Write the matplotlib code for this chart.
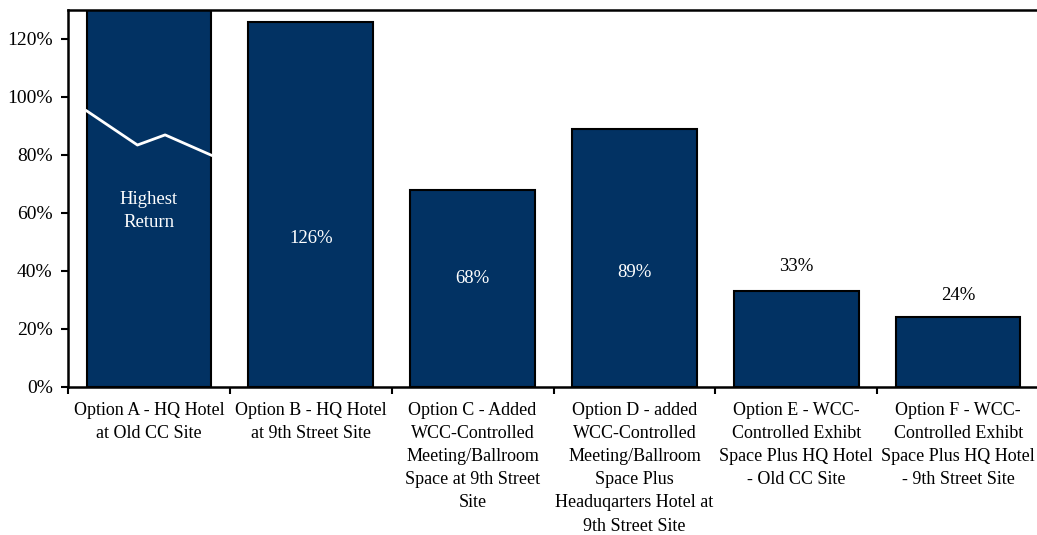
import matplotlib
matplotlib.use("Agg")
import matplotlib.pyplot as plt
import numpy as np

categories = [
    "Option A - HQ Hotel\nat Old CC Site",
    "Option B - HQ Hotel\nat 9th Street Site",
    "Option C - Added\nWCC-Controlled\nMeeting/Ballroom\nSpace at 9th Street\nSite",
    "Option D - added\nWCC-Controlled\nMeeting/Ballroom\nSpace Plus\nHeaduqarters Hotel at\n9th Street Site",
    "Option E - WCC-\nControlled Exhibt\nSpace Plus HQ Hotel\n- Old CC Site",
    "Option F - WCC-\nControlled Exhibt\nSpace Plus HQ Hotel\n- 9th Street Site",
]
values = [140, 126, 68, 89, 33, 24]   # first bar runs off the top of the chart
value_labels = ["Highest\nReturn", "126%", "68%", "89%", "33%", "24%"]
label_y = [60.5, 51, 37.5, 39.5, 41.5, 31.6]
label_inside = [True, True, True, True, False, False]

# white break line drawn across the first bar
break_x = [-0.385, -0.071, 0.10, 0.385]
break_y = [95.2, 83.4, 86.9, 79.9]

yticks = [0, 20, 40, 60, 80, 100, 120]

plt.rcParams['font.family'] = ['Liberation Serif', 'DejaVu Serif']

fig = plt.figure(figsize=(10.37, 5.35), dpi=100)
ax = fig.add_axes([68/1037, 1 - 386.7/535, 1 - 68/1037 + 0.002, (386.7 - 10)/535])

x = np.arange(len(categories))
ax.bar(x, values, width=0.77, color='#023263', edgecolor='black', linewidth=1.5, zorder=2)
ax.plot(break_x, break_y, color='white', linewidth=2.0, zorder=3)

for xi, lab, ly, inside in zip(x, value_labels, label_y, label_inside):
    ax.text(xi, ly, lab, ha='center', va='center', fontsize=13.5,
            color='white' if inside else 'black', linespacing=1.45, zorder=4)

ax.set_xlim(-0.5, len(categories) - 0.5)
ax.set_ylim(0, 130)
ax.set_yticks(yticks)
ax.set_yticklabels([f"{v}%" for v in yticks], fontsize=14)

ax.set_xticks(np.arange(len(categories) + 1) - 0.5)
ax.set_xticklabels([])
ax.set_xticks(x, minor=True)
ax.set_xticklabels(categories, minor=True, fontsize=13, linespacing=1.47)
ax.tick_params(axis='x', which='minor', length=0, pad=11)
ax.tick_params(axis='x', which='major', length=5, width=1.5, direction='out')
ax.tick_params(axis='y', length=5, width=1.5, direction='out', pad=6)

for s in ['left', 'bottom', 'top']:
    ax.spines[s].set_linewidth(1.8)
ax.spines['right'].set_visible(False)

fig.savefig("out.png", dpi=100)
